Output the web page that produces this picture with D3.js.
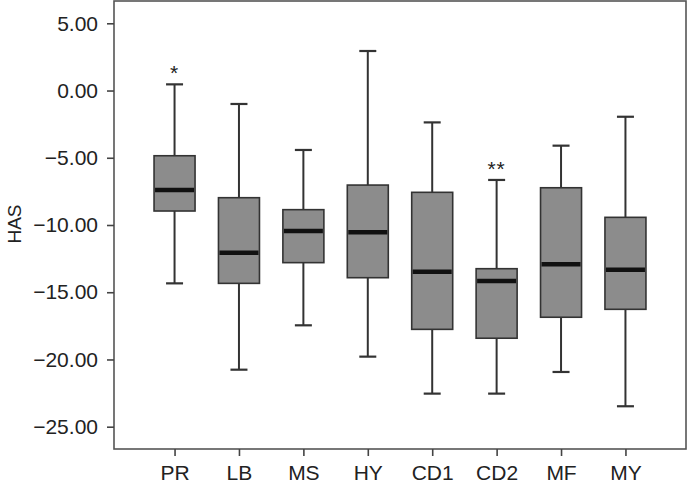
<!DOCTYPE html>
<html><head><meta charset="utf-8">
<script src="https://cdn.jsdelivr.net/npm/d3@7"></script>
<style>body{margin:0;background:#fff}svg{display:block}text{font-family:"Liberation Sans",Arial,Helvetica,sans-serif;fill:#222}</style>
</head><body><svg id="c" width="688" height="486"></svg>
<script>
const categories = ["PR","LB","MS","HY","CD1","CD2","MF","MY"];
const whiskerHigh = [0.46, -1.0, -4.42, 2.94, -2.37, -6.65, -4.1, -1.95];
const q3 =          [-4.85, -7.97, -8.86, -7.03, -7.57, -13.25, -7.23, -9.43];
const median =      [-7.40, -12.06, -10.45, -10.54, -13.47, -14.16, -12.92, -13.32];
const q1 =          [-8.96, -14.34, -12.80, -13.92, -17.76, -18.42, -16.86, -16.27];
const whiskerLow =  [-14.34, -20.76, -17.46, -19.79, -22.54, -22.54, -20.93, -23.48];
const significance = ["*", "", "", "", "", "**", "", ""];
const yTicks = [5, 0, -5, -10, -15, -20, -25];
const yLabel = "HAS";

const svg = d3.select("#c");
const L = 114, R = 686, T = 1, B = 449;
const x = d3.scalePoint().domain(categories).range([L, R]).padding(0.94);
const y = d3.scaleLinear().domain([-25, 5]).range([426.7, 23.3]);
const boxW = 41, capW = 17;
const stroke = "#333";

const data = categories.map((c, i) => ({c, hi: whiskerHigh[i], q3: q3[i], med: median[i], q1: q1[i], lo: whiskerLow[i], sig: significance[i]}));

// frame
svg.append("rect").attr("x", L).attr("y", T).attr("width", R - L).attr("height", B - T)
  .attr("fill", "none").attr("stroke", "#555").attr("stroke-width", 1.6);

// y axis
const yAxis = d3.axisLeft(y).tickValues(yTicks).tickSize(7).tickPadding(9).tickFormat(d3.format(".2f"));
const gy = svg.append("g").attr("transform", `translate(${L},0)`).call(yAxis);
gy.select(".domain").remove();
gy.selectAll(".tick line").attr("stroke", "#444").attr("stroke-width", 1.6);
gy.selectAll(".tick text").attr("font-size", 21).attr("fill", "#222")
  .attr("font-family", '"Liberation Sans",Arial,sans-serif');

// x axis
const xAxis = d3.axisBottom(x).tickSize(7).tickPadding(9);
const gx = svg.append("g").attr("transform", `translate(0,${B})`).call(xAxis);
gx.select(".domain").remove();
gx.selectAll(".tick line").attr("stroke", "#444").attr("stroke-width", 1.6);
gx.selectAll(".tick text").attr("font-size", 21).attr("fill", "#222")
  .attr("font-family", '"Liberation Sans",Arial,sans-serif');

// y label
svg.append("text").attr("transform", "translate(21,224) rotate(-90)")
  .attr("text-anchor", "middle").attr("font-size", 19).text(yLabel);

const g = svg.append("g").selectAll("g").data(data).join("g");
// whiskers
g.append("line").attr("x1", d => x(d.c)).attr("x2", d => x(d.c))
  .attr("y1", d => y(d.hi)).attr("y2", d => y(d.q3)).attr("stroke", stroke).attr("stroke-width", 2);
g.append("line").attr("x1", d => x(d.c)).attr("x2", d => x(d.c))
  .attr("y1", d => y(d.q1)).attr("y2", d => y(d.lo)).attr("stroke", stroke).attr("stroke-width", 2);
// caps
g.append("line").attr("x1", d => x(d.c) - capW / 2).attr("x2", d => x(d.c) + capW / 2)
  .attr("y1", d => y(d.hi)).attr("y2", d => y(d.hi)).attr("stroke", stroke).attr("stroke-width", 2.2);
g.append("line").attr("x1", d => x(d.c) - capW / 2).attr("x2", d => x(d.c) + capW / 2)
  .attr("y1", d => y(d.lo)).attr("y2", d => y(d.lo)).attr("stroke", stroke).attr("stroke-width", 2.2);
// box
g.append("rect").attr("x", d => x(d.c) - boxW / 2).attr("width", boxW)
  .attr("y", d => y(d.q3)).attr("height", d => y(d.q1) - y(d.q3))
  .attr("fill", "#8c8c8c").attr("stroke", stroke).attr("stroke-width", 1.6);
// median
g.append("line").attr("x1", d => x(d.c) - boxW / 2 + 1).attr("x2", d => x(d.c) + boxW / 2 - 1)
  .attr("y1", d => y(d.med)).attr("y2", d => y(d.med)).attr("stroke", "#111").attr("stroke-width", 4.5);
// significance
g.filter(d => d.sig).append("text").attr("x", d => x(d.c)).attr("y", d => y(d.hi) - 4)
  .attr("text-anchor", "middle").attr("font-size", 21).attr("letter-spacing", 1).text(d => d.sig);
</script></body></html>
